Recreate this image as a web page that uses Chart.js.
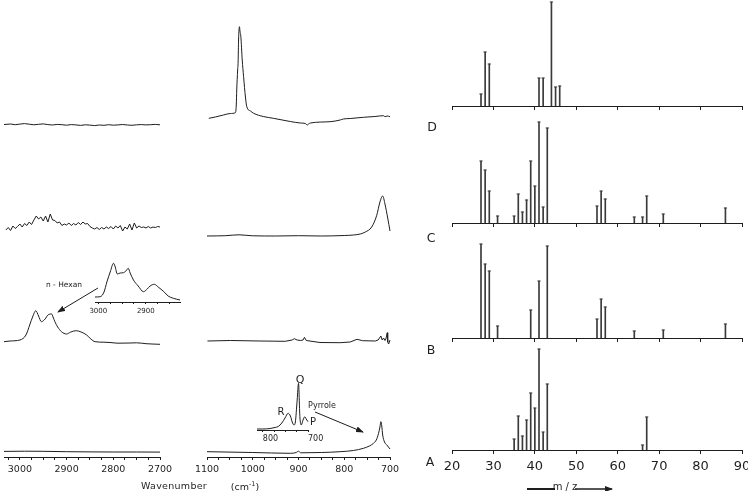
<!DOCTYPE html>
<html>
<head>
<meta charset="utf-8">
<script src="https://cdn.jsdelivr.net/npm/chart.js@4.4.0/dist/chart.umd.min.js"></script>
<style>
html, body { margin: 0; padding: 0; background: #fff; }
body { position: relative; width: 748px; height: 491px; overflow: hidden; font-family: "DejaVu Sans", sans-serif; color: #1e1e1e; }
canvas { position: absolute; }
.t { position: absolute; white-space: nowrap; transform: translate(-50%, -50%); line-height: 1; will-change: transform; }
svg { position: absolute; left: 0; top: 0; }
</style>
</head>
<body>

<svg width="748" height="491">
  <defs>
    <marker id="ah" markerWidth="8" markerHeight="6" refX="7" refY="3" orient="auto" markerUnits="userSpaceOnUse">
      <path d="M0,0 L8,3 L0,6 z" fill="#1e1e1e"/>
    </marker>
  </defs>
  <line x1="98" y1="288" x2="58" y2="312" stroke="#1e1e1e" stroke-width="1" marker-end="url(#ah)"/>
  <line x1="315" y1="412" x2="363" y2="432" stroke="#1e1e1e" stroke-width="1" marker-end="url(#ah)"/>
  <line x1="527" y1="489" x2="555" y2="489" stroke="#1e1e1e" stroke-width="2"/>
  <line x1="575" y1="489" x2="612" y2="489" stroke="#1e1e1e" stroke-width="1.5" marker-end="url(#ah)"/>
</svg>

<div class="t" style="left:432px;top:127px;font-size:12.5px">D</div>
<div class="t" style="left:431px;top:238px;font-size:12.5px">C</div>
<div class="t" style="left:431px;top:350px;font-size:12.5px">B</div>
<div class="t" style="left:430px;top:462px;font-size:12.5px">A</div>
<div class="t" style="left:64px;top:285px;font-size:7.5px">n - Hexan</div>
<div class="t" style="left:322px;top:406px;font-size:8px">Pyrrole</div>
<div class="t" style="left:299.5px;top:379px;font-size:11px">Q</div>
<div class="t" style="left:281px;top:412px;font-size:10px">R</div>
<div class="t" style="left:313px;top:422px;font-size:10px">P</div>
<div class="t" style="left:174px;top:486px;font-size:9.5px;letter-spacing:0.3px">Wavenumber</div>
<div class="t" style="left:245px;top:486px;font-size:9.5px">(cm<sup style="font-size:6.5px">-1</sup>)</div>
<div class="t" style="left:565px;top:487px;font-size:10px">m / z</div>

<script>
// mass spectra (relative intensity)
const mzTicks = [20, 30, 40, 50, 60, 70, 80, 90];
const msD_mz = [27, 28, 29, 41, 42, 44, 45, 46];
const msD_int = [12, 54, 42, 28, 28, 104, 19, 20];
const msC_mz = [27, 28, 29, 31, 35, 36, 37, 38, 39, 40, 41, 42, 43, 55, 56, 57, 64, 66, 67, 71, 86];
const msC_int = [62, 53, 32, 7, 7, 29, 11, 23, 62, 37, 101, 16, 95, 17, 32, 24, 6, 6, 27, 9, 15];
const msB_mz = [27, 28, 29, 31, 39, 41, 43, 55, 56, 57, 64, 71, 86];
const msB_int = [94, 74, 67, 12, 28, 57, 92, 19, 39, 31, 7, 8, 14];
const msA_mz = [35, 36, 37, 38, 39, 40, 41, 42, 43, 66, 67];
const msA_int = [11, 34, 14, 30, 57, 42, 101, 18, 66, 5, 33];

// IR, C-H region (cm-1) and absorbance (arb.)
const chTicks = [3000, 2900, 2800, 2700];
const irD_ch_wn = [3034, 3020, 3010, 3000, 2990, 2980, 2970, 2960, 2950, 2940, 2930, 2920, 2910, 2900, 2890, 2880, 2870, 2860, 2850, 2840, 2830, 2820, 2810, 2800, 2790, 2780, 2770, 2760, 2750, 2740, 2730, 2720, 2710, 2700];
const irD_ch = [0.5, 1.0, 0.3, 0.9, 1.4, 0.8, 0.2, 0.7, 1.1, 0.4, 0.0, 0.6, 0.3, -0.2, 0.4, 0.1, -0.4, 0.2, -0.1, -0.6, 0.0, -0.3, 0.3, -0.2, 0.1, 0.5, 0.0, -0.3, 0.2, 0.4, 0.1, 0.3, 0.6, 0.2];
const irC_ch_wn = [3030, 3025, 3020, 3015, 3010, 3005, 3000, 2995, 2990, 2985, 2980, 2975, 2970, 2965, 2960, 2955, 2950, 2945, 2940, 2935, 2930, 2925, 2920, 2915, 2910, 2905, 2900, 2895, 2890, 2885, 2880, 2875, 2870, 2865, 2860, 2855, 2850, 2845, 2840, 2835, 2830, 2825, 2820, 2815, 2810, 2805, 2800, 2795, 2790, 2785, 2780, 2775, 2770, 2765, 2760, 2755, 2750, 2745, 2740, 2735, 2730, 2725, 2720, 2715, 2710, 2705, 2700];
const irC_ch = [0, 2.5, -0.5, 4, 1.5, 3.5, 6, 3, 6.5, 4.5, 8, 5.5, 10, 14, 11, 13, 9, 14, 8, 16, 10, 9.5, 7, 8, 4.5, 6, 5, 7, 4.5, 6.5, 5, 7.5, 5.5, 8, 6, 6.5, 3.5, 2, 1, 2.5, 0.5, 2.5, 1, 3, 1.5, 3.5, 1, 4, 2, 4.5, -1, 3, 1, 6, 0, 7, 2, 4, 2.5, 3, 2, 3.5, 2, 3, 2.5, 3.5, 3];
const irB_ch_wn = [3034, 3021, 3000, 2987, 2979, 2972, 2966, 2960, 2954, 2946, 2940, 2932, 2929, 2925, 2919, 2911, 2900, 2891, 2879, 2869, 2857, 2848, 2839, 2820, 2807, 2790, 2764, 2750, 2730, 2700];
const irB_ch = [2.3, 3, 4, 9, 19, 28, 33.3, 28, 22.3, 25, 29, 30, 27, 22.3, 17, 12.3, 10, 12, 13.3, 12, 9, 5, 2.3, 1.8, 1.5, 0.8, 1, 1.2, 0.3, -0.3];
const irA_ch_wn = [3034, 2990, 2950, 2900, 2850, 2800, 2750, 2700];
const irA_ch = [0.6, 0.8, 0.7, 0.3, 0.1, 0, 0, -0.1];
const hexTicks = [3000, 2900];
const hex_wn = [3007, 2996, 2988, 2982, 2975, 2968, 2965, 2960, 2954, 2947, 2942, 2937, 2933, 2926, 2916, 2905, 2897, 2891, 2882, 2874, 2862, 2853, 2842, 2828];
const hex = [5, 5.3, 10, 20, 30, 38.7, 36, 28, 29, 29.3, 31, 33.7, 29, 22, 16, 10.3, 13, 16, 17.7, 15, 10.3, 6, 3.7, 2];

// IR, 1100-700 cm-1
const fpTicks = [1100, 1000, 900, 800, 700];
const irD_fp_wn = [1096, 1082, 1064, 1049, 1038, 1036, 1035, 1033, 1032, 1031, 1029, 1028, 1026, 1023, 1020, 1016, 1013, 1005, 998, 977, 955, 918, 896, 885, 881, 878, 874, 831, 809, 802, 787, 758, 733, 714, 711, 706, 700];
const irD_fp = [6.7, 8, 10, 11.5, 12.3, 20, 35, 55, 63, 85, 98.3, 94, 88.3, 65, 48.3, 28, 18.3, 14, 11.7, 8.5, 6.7, 3.5, 2, 1.5, 0, 1, 2, 3.3, 5, 6, 6.5, 7.7, 8.5, 9.3, 8.3, 9, 8.3];
const irC_fp_wn = [1100, 1060, 1030, 1000, 950, 900, 850, 800, 780, 765, 754, 740, 729, 722, 716, 711, 705, 700];
const irC_fp = [0, 0.3, 1.2, 0.2, 0, 0.3, 0, 0.5, 1, 2, 4, 9, 20.7, 34, 40, 32, 18, 5];
const irB_fp_wn = [1099, 1049, 984, 929, 914, 909, 903, 896, 890, 887, 883, 853, 809, 787, 772, 760, 732, 726, 720, 717, 714, 711, 709, 706, 705, 703, 700];
const irB_fp = [0, 0.5, 0, -0.3, 1, 2.3, 1, 0.5, 1, 3.7, 0.5, -1.5, -1.7, -1, 1.7, 0.3, 0, 1, 5, 1, 3, 0.5, 2, 8.3, -1, -3, 1];
const irA_fp_wn = [1100, 1000, 918, 905, 900, 895, 850, 809, 780, 758, 745, 736, 730, 725, 722, 720, 718, 716, 712, 707, 700];
const irA_fp = [0.3, -0.5, -1.3, -0.5, 0.8, -0.8, -0.5, 0.3, 1.5, 3.7, 6, 8.7, 12, 18.7, 25, 30.3, 26, 17, 10, 7, 3];
const pyrTicks = [800, 700];
const pyr_wn = [813, 800, 784, 773, 766, 758, 751, 744, 739, 735, 731, 728, 724, 721, 718, 715, 711, 707, 704, 700];
const pyr = [1, 1, 1.5, 2.5, 3.5, 7, 12, 16.7, 14, 8, 5, 8, 30, 46.7, 13.3, 5, 10, 13.3, 11, 8.3];

const INK = "#1e1e1e";
const BAR = "#3a3a3a";
const P = 16;

function makeCanvas(left, top, w, h) {
    const c = document.createElement("canvas");
    c.width = Math.ceil(w);
    c.height = Math.ceil(h);
    c.style.left = left + "px";
    c.style.top = top + "px";
    c.style.width = c.width + "px";
    c.style.height = c.height + "px";
    document.body.appendChild(c);
    return c;
}

function baseOptions(pad) {
    return {
        responsive: false,
        animation: false,
        devicePixelRatio: 1,
        events: [],
        layout: { padding: pad },
        plugins: { legend: { display: false }, tooltip: { enabled: false } }
    };
}

function xAxis(min, max, reverse, step, labels, font, tickLen, pad, align) {
    return {
        type: "linear", min: min, max: max, reverse: reverse, offset: false,
        border: { display: true, color: INK, width: 1 },
        grid: { drawOnChartArea: false, drawTicks: true, tickLength: tickLen, color: INK, lineWidth: 1, offset: false },
        ticks: {
            display: labels.length > 0, stepSize: step, autoSkip: false, maxRotation: 0,
            includeBounds: false, padding: pad, align: align || "center", color: INK,
            font: { family: "DejaVu Sans", size: font },
            callback: v => labels.includes(v) ? String(v) : ""
        }
    };
}

// one IR trace, 1 unit = 1 px above its baseline
function traceChart(range, box, wn, vals, smooth) {
    const c = makeCanvas(box.left - P, box.base - box.up - P, box.width + 2 * P, box.up + box.down + 2 * P);
    const pts = wn.map((x, i) => ({ x: x, y: vals[i] }));
    const opts = baseOptions({ left: P, top: P, right: c.width - P - box.width, bottom: c.height - P - box.up - box.down });
    opts.scales = {
        x: { type: "linear", display: false, reverse: true, min: range[0], max: range[1] },
        y: { display: false, min: -box.down, max: box.up }
    };
    new Chart(c, {
        type: "line",
        data: { datasets: [{
            data: pts, borderColor: INK, borderWidth: 1, pointRadius: 0, clip: false,
            tension: smooth ? 0.4 : 0, cubicInterpolationMode: smooth ? "monotone" : "default"
        }] },
        options: opts
    });
}

// wavenumber axis only; the empty plot area above keeps the layout from squeezing it
function axisChart(range, left, width, y, step, labels, font, tickLen, pad, align, extraRight) {
    const CA = 40;
    const axisH = tickLen + font * 1.2 + 2 * pad;
    const pr = P + (extraRight || 0);
    const c = makeCanvas(left - P, y - CA - P, width + P + pr, P + CA + axisH + P);
    const opts = baseOptions({ left: P, top: P, right: c.width - P - width, bottom: c.height - P - CA - axisH });
    opts.scales = {
        x: xAxis(range[0], range[1], true, step, labels, font, tickLen, pad, align),
        y: { display: false, min: 0, max: 1 }
    };
    new Chart(c, { type: "line", data: { datasets: [] }, options: opts });
}

function msChart(mz, inten, base, showLabels) {
    const left = 452, width = 290, up = 106;
    const tickLen = 4, font = 13, pad = 4.5;
    const axisH = tickLen + (showLabels ? font * 1.2 + 2 * pad : 0);
    const c = makeCanvas(left - P, base - up - P, width + 2 * P, P + up + axisH + P);
    const opts = baseOptions({ left: P, top: P, right: c.width - P - width, bottom: c.height - P - up - axisH });
    opts.scales = {
        x: xAxis(20, 90, false, 10, showLabels ? mzTicks : [], font, tickLen, pad),
        y: { display: false, min: 0, max: up }
    };
    const pts = mz.map((m, i) => ({ x: m, y: inten[i] }));
    new Chart(c, {
        type: "bar",
        data: { datasets: [
            { type: "bar", data: pts, backgroundColor: BAR, barThickness: 1, borderWidth: 0, grouped: false },
            { type: "scatter", data: pts, pointStyle: "line", pointRadius: 1.6, borderColor: BAR, borderWidth: 1 }
        ] },
        options: opts
    });
}

const CH = [2700, 3034];
const FP = [700, 1100];

// C-H stretch panel
traceChart(CH, { left: 4, width: 156, base: 125, up: 6, down: 6 }, irD_ch_wn, irD_ch, false);
traceChart(CH, { left: 4, width: 156, base: 230, up: 20, down: 6 }, irC_ch_wn, irC_ch, false);
traceChart(CH, { left: 4, width: 156, base: 344, up: 38, down: 6 }, irB_ch_wn, irB_ch, true);
traceChart(CH, { left: 4, width: 156, base: 452, up: 5, down: 4 }, irA_ch_wn, irA_ch, false);
axisChart(CH, 4, 156, 457, 25, chTicks, 9.5, 3, 3.5);
traceChart([2828, 3007], { left: 95, width: 85, base: 302, up: 44, down: 0 }, hex_wn, hex, true);
axisChart([2828, 3007], 95, 85, 302, 25, hexTicks, 7, 2, 3);

// 1100-700 panel
traceChart(FP, { left: 207, width: 183, base: 125, up: 102, down: 4 }, irD_fp_wn, irD_fp, true);
traceChart(FP, { left: 207, width: 183, base: 236, up: 44, down: 4 }, irC_fp_wn, irC_fp, true);
traceChart(FP, { left: 207, width: 183, base: 341, up: 12, down: 6 }, irB_fp_wn, irB_fp, false);
traceChart(FP, { left: 207, width: 183, base: 452, up: 33, down: 4 }, irA_fp_wn, irA_fp, true);
axisChart(FP, 207, 183, 457, 25, fpTicks, 9.5, 3, 3.5);
traceChart([700, 813], { left: 257, width: 51, base: 430, up: 50, down: 0 }, pyr_wn, pyr, true);
axisChart([700, 813], 257, 51, 430, 25, pyrTicks, 8, 2, 2, "start", 10);

// mass spectra
msChart(msD_mz, msD_int, 106, false);
msChart(msC_mz, msC_int, 223, false);
msChart(msB_mz, msB_int, 338, false);
msChart(msA_mz, msA_int, 450, true);
</script>
</body>
</html>
